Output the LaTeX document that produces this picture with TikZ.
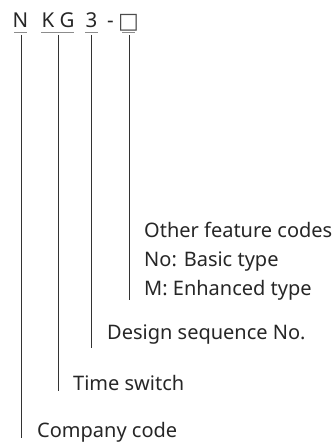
\documentclass[tikz,border=0pt]{standalone}
\usepackage{fontspec}
\setmainfont{Noto Sans}
\newfontfamily\symfont{DejaVu Sans}
\begin{document}
\begin{tikzpicture}[x=1pt,y=-1pt,
  ch/.style={anchor=base,inner sep=0pt,font=\fontsize{20.5}{22}\selectfont,text=black!85},
  lab/.style={anchor=west,inner sep=0pt,font=\fontsize{20}{29}\selectfont,text=black!85,align=left},
  ul/.style={draw=black!45,line width=1pt},
  vl/.style={draw=black!80,line width=0.8pt}]
\useasboundingbox (0,0) rectangle (336,446);
% top code
\node[ch] (n) at (20.5,27.5) {N};
\node[ch] (k) at (48,27.5) {K};
\node[ch] (g) at (67,27.5) {G};
\node[ch] (three) at (91.5,27.5) {3};
\node[ch] (dash) at (110.5,27.5) {-};
\node[ch,font=\symfont\fontsize{22}{24}\selectfont,text=black!70] (box) at (128.5,28.5) {□};
% underlines
\coordinate (uN1) at (14,33); \coordinate (uN2) at (27,33);
\coordinate (uK1) at (41,33); \coordinate (uK2) at (74,33);
\coordinate (u31) at (85,33); \coordinate (u32) at (98,33);
\coordinate (uB1) at (122,33); \coordinate (uB2) at (135,33);
\draw[ul] (uN1) -- (uN2);
\draw[ul] (uK1) -- (uK2);
\draw[ul] (u31) -- (u32);
\draw[ul] (uB1) -- (uB2);
% labels
\node[lab] (other) at (144,261) {Other feature codes\\No: Basic type\\M: Enhanced type};
\node[lab] (design) at (107,335) {Design sequence No.};
\node[lab] (time) at (73,383) {Time switch};
\node[lab] (company) at (37,432) {Company code};
% connectors
\coordinate (tN) at (21,35); \coordinate (tK) at (58,35);
\coordinate (t3) at (91,35); \coordinate (tB) at (129,35);
\coordinate (eN) at (21,438); \coordinate (eK) at (58,391);
\coordinate (e3) at (91,348); \coordinate (eB) at (129,300);
\draw[vl] (tN) -- (eN);
\draw[vl] (tK) -- (eK);
\draw[vl] (t3) -- (e3);
\draw[vl] (tB) -- (eB);
\end{tikzpicture}
\end{document}
